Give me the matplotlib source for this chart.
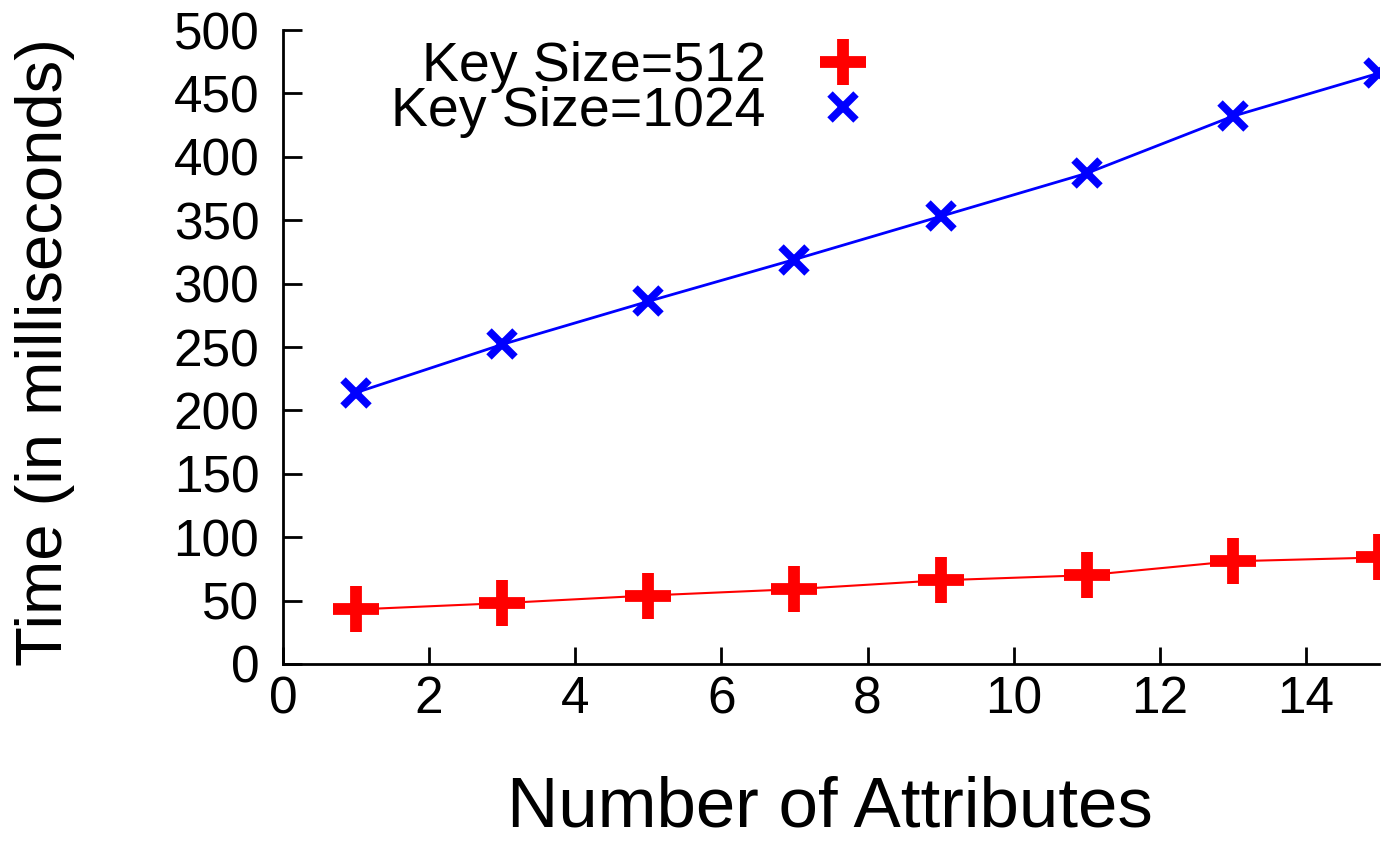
import matplotlib
matplotlib.use("Agg")
import matplotlib.pyplot as plt
from matplotlib.lines import Line2D

attrs = [1, 3, 5, 7, 9, 11, 13, 15]
time_512 = [43, 48, 54, 59, 66, 70, 81, 84]
time_1024 = [214, 252, 286, 319, 353, 387, 432, 466]

plt.rcParams['font.family'] = ['Liberation Sans', 'DejaVu Sans']

fig = plt.figure(figsize=(13.98, 8.48), dpi=100)
ax = fig.add_axes([0.2024, 0.217, 0.7840, 0.7476])

ax.plot(attrs, time_512, color='red', lw=1.5, marker='+', ms=33, mew=8.5)
ax.plot(attrs, time_1024, color='blue', lw=2, marker='x', ms=19, mew=5.5)

ax.set_xlim(0, 15)
ax.set_ylim(0, 500)
ax.set_xticks(range(0, 15, 2))
ax.set_yticks(range(0, 501, 50))

for s in ['top', 'right']:
    ax.spines[s].set_visible(False)
for s in ['left', 'bottom']:
    ax.spines[s].set_linewidth(2)
ax.tick_params(direction='in', width=2, labelsize=37)
ax.tick_params(axis='y', length=14, pad=17)
ax.tick_params(axis='x', length=12, pad=8)

ax.set_xlabel('Number of Attributes', fontsize=51)
ax.xaxis.set_label_coords(0.499, -0.176)
ax.set_ylabel('Time (in milliseconds)', fontsize=47)
ax.yaxis.set_label_coords(-0.19, 0.492)

handles = [
    Line2D([], [], color='red', ls='none', marker='+', ms=33, mew=8.5),
    Line2D([], [], color='blue', ls='none', marker='x', ms=19, mew=5.5),
]
ax.legend(handles, ['Key Size=512', 'Key Size=1024'], loc='upper right',
          bbox_to_anchor=(0.5365, 0.982), frameon=False, markerfirst=False,
          fontsize=40, handlelength=1.0, handletextpad=0.9, labelspacing=-0.13,
          borderpad=0, borderaxespad=0)

fig.savefig('out.png', dpi=100)
